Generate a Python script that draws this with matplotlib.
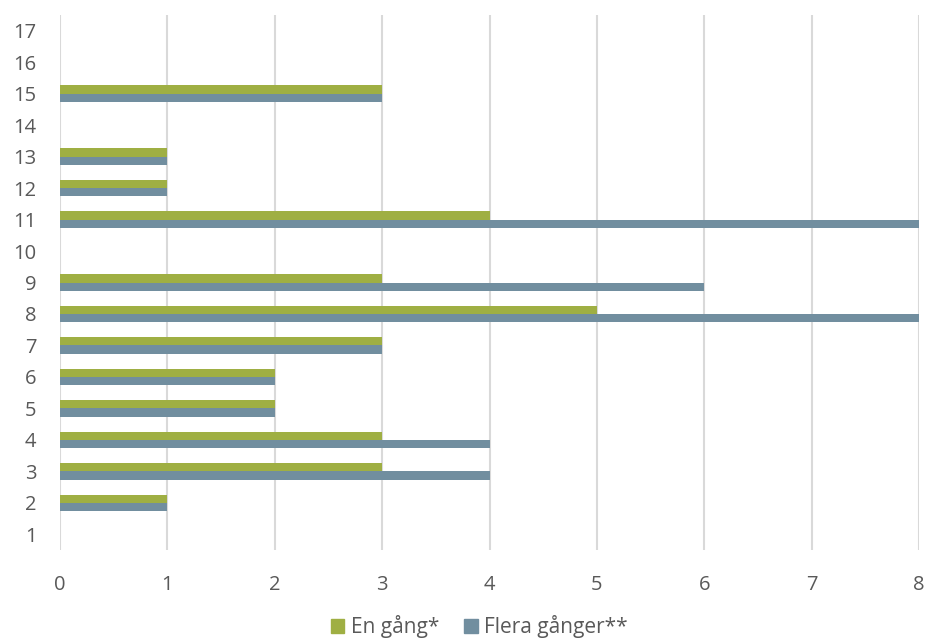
import matplotlib
matplotlib.use("Agg")
import matplotlib.pyplot as plt
import numpy as np
from matplotlib.patches import Patch

categories = list(range(1, 18))
en_gang = [0, 1, 3, 3, 2, 2, 3, 5, 3, 0, 4, 1, 1, 0, 3, 0, 0]
flera_ganger = [0, 1, 4, 4, 2, 2, 3, 8, 6, 0, 8, 1, 1, 0, 3, 0, 0]
xticks = list(range(0, 9))

green = "#9FAF43"
blue = "#718E9F"
grid = "#D9D9D9"
txt = "#595959"

plt.rcParams['font.family'] = ['Open Sans', 'DejaVu Sans']

fig = plt.figure(figsize=(9.25, 6.43), dpi=100)
ax = fig.add_axes([60/925, 1 - 550/643, (919-60)/925, (550-15)/643])

y = np.array(categories)
h = 0.26
ax.barh(y + h/2, en_gang, height=h, color=green, zorder=3)
ax.barh(y - h/2, flera_ganger, height=h, color=blue, zorder=3)

ax.set_xlim(0, 8)
ax.set_ylim(0.5, 17.5)
ax.set_xticks(xticks)
ax.set_yticks(categories)
ax.set_yticklabels([str(c) for c in categories])
ax.xaxis.grid(True, color=grid, linewidth=1.5, zorder=0)
for s in ax.spines.values():
    s.set_visible(False)
ax.tick_params(axis='both', length=0, labelsize=14.5, colors=txt)
ax.tick_params(axis='x', pad=18)
ax.tick_params(axis='y', pad=17)

handles = [Patch(color=green, label="En gång*"), Patch(color=blue, label="Flera gånger**")]
leg = fig.legend(handles=handles, loc='center', bbox_to_anchor=(0.518, 1 - 627/643),
                 ncol=2, frameon=False, fontsize=15, handlelength=0.65, handleheight=0.65,
                 handletextpad=0.3, columnspacing=1.2, borderpad=0.2)
for t in leg.get_texts():
    t.set_color(txt)

fig.savefig("out.png", dpi=100)
